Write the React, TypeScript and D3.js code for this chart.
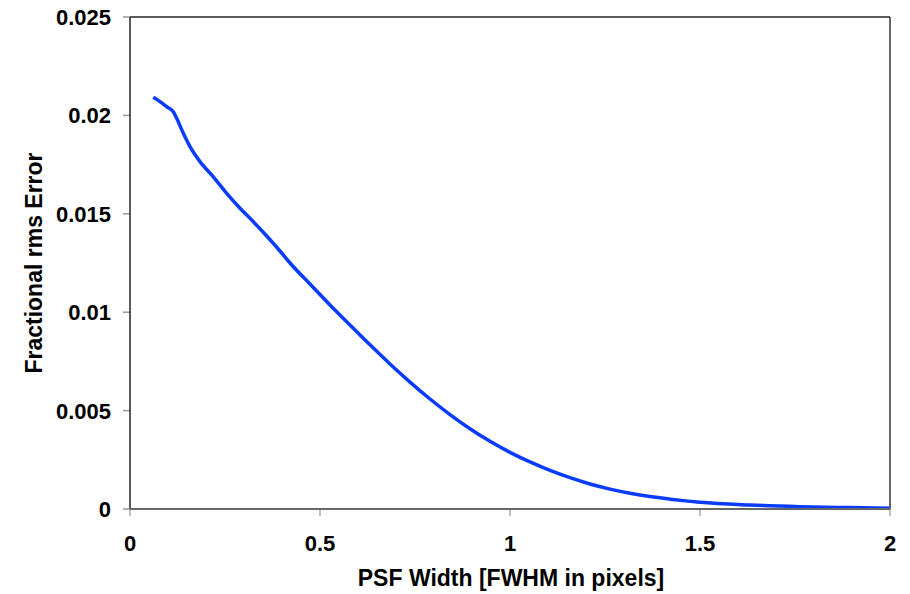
import React from "react";
import * as d3 from "d3";

const psfWidth = [0.0613, 0.0789, 0.0966, 0.1139, 0.1229, 0.1403, 0.1579, 0.1842, 0.2192, 0.2545, 0.2895, 0.3245, 0.3597, 0.3947, 0.4211, 0.4737, 0.5263, 0.5789, 0.6316, 0.6842, 0.7368, 0.7895, 0.8421, 0.8947, 0.9474, 1.0, 1.0526, 1.1053, 1.1579, 1.2105, 1.2632, 1.3158, 1.3684, 1.4211, 1.4684, 1.5, 1.6316, 1.7632, 1.8947, 2.0];
const rmsError = [0.02092, 0.02070, 0.02044, 0.02019, 0.01985, 0.01909, 0.01841, 0.01765, 0.01688, 0.01604, 0.01528, 0.01460, 0.01387, 0.01311, 0.01250, 0.01143, 0.01037, 0.00935, 0.00834, 0.00737, 0.00645, 0.00559, 0.00480, 0.00408, 0.00344, 0.00288, 0.00239, 0.00196, 0.00159, 0.00127, 0.00101, 0.00080, 0.00063, 0.00050, 0.00040, 0.00034, 0.00020, 0.00012, 0.00007, 0.00004];
const xTicks = [0, 0.5, 1, 1.5, 2];
const xTickLabels = ["0", "0.5", "1", "1.5", "2"];
const yTicks = [0, 0.005, 0.01, 0.015, 0.02, 0.025];
const yTickLabels = ["0", "0.005", "0.01", "0.015", "0.02", "0.025"];
const xTitle = "PSF Width [FWHM in pixels]";
const yTitle = "Fractional rms Error";

export default function App() {
  const W = 910, H = 594;
  const left = 130, right = 890, top = 17, bottom = 509;
  const x = d3.scaleLinear().domain([0, 2]).range([left, right]);
  const y = d3.scaleLinear().domain([0, 0.025]).range([bottom, top]);
  const pts = psfWidth.map((v, i) => [v, rmsError[i]] as [number, number]);
  const line = d3.line<[number, number]>().x(d => x(d[0])).y(d => y(d[1])).curve(d3.curveMonotoneX);
  const font = "Arial, 'Liberation Sans', sans-serif";
  return (
    <svg width={W} height={H} style={{ position: "absolute", left: 0, top: 0, background: "#fff" }}>
      <rect x={0} y={0} width={W} height={H} fill="#fff" />
      {yTicks.map((t, i) => (
        <g key={"y" + i}>
          <line x1={left - 7} x2={left} y1={y(t)} y2={y(t)} stroke="#999" strokeWidth={1.5} />
          <text x={111} y={y(t) + 8} textAnchor="end" fontFamily={font} fontWeight="bold" fontSize={22} fill="#000">{yTickLabels[i]}</text>
        </g>
      ))}
      {xTicks.map((t, i) => (
        <g key={"x" + i}>
          <line x1={x(t)} x2={x(t)} y1={bottom} y2={bottom + 7} stroke="#aaa" strokeWidth={1.5} />
          <text x={x(t)} y={551} textAnchor="middle" fontFamily={font} fontWeight="bold" fontSize={22} fill="#000">{xTickLabels[i]}</text>
        </g>
      ))}
      <line x1={left} x2={right} y1={top} y2={top} stroke="#222" strokeWidth={1.5} />
      <line x1={right} x2={right} y1={top} y2={bottom} stroke="#333" strokeWidth={1.5} />
      <line x1={left} x2={left} y1={top} y2={bottom} stroke="#222" strokeWidth={1.5} />
      <path d={line(pts) || ""} fill="none" stroke="#0a3cff" strokeWidth={3.5} strokeLinejoin="round" />
      <line x1={left} x2={right} y1={bottom} y2={bottom} stroke="#666" strokeWidth={2} />
      <text x={511} y={586} textAnchor="middle" fontFamily={font} fontWeight="bold" fontSize={23} fill="#000">{xTitle}</text>
      <text transform={`translate(42,263) rotate(-90)`} textAnchor="middle" fontFamily={font} fontWeight="bold" fontSize={23} fill="#000">{yTitle}</text>
    </svg>
  );
}
